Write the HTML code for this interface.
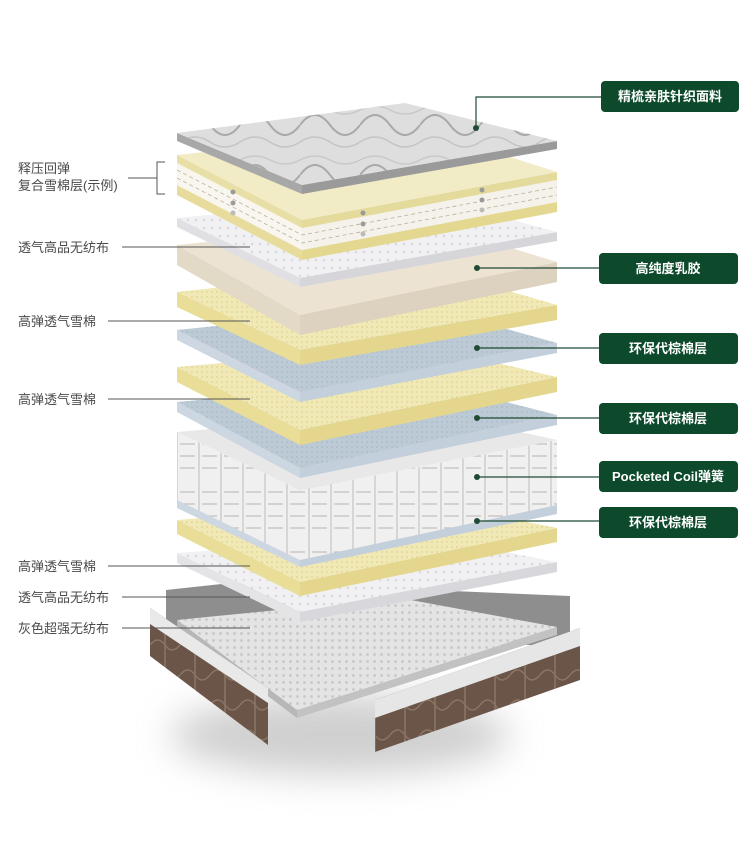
<!DOCTYPE html>
<html><head><meta charset="utf-8">
<style>
html,body{margin:0;padding:0;background:#fff;}
svg{display:block;}
text{font-family:"Liberation Sans","Noto Sans CJK SC",sans-serif;}
.lt{font-size:13px;fill:#4a4a4a;}
.bt{font-size:13px;fill:#fff;font-weight:bold;}
</style></head><body>
<svg width="750" height="850" viewBox="0 0 750 850" xmlns="http://www.w3.org/2000/svg">
<defs>
<filter id="blur" x="-50%" y="-50%" width="200%" height="200%"><feGaussianBlur stdDeviation="18"/></filter>
<pattern id="dots" width="8" height="8" patternUnits="userSpaceOnUse"><rect width="8" height="8" fill="#f1f1f3"/><circle cx="4" cy="4" r="1.4" fill="#dcdce0"/></pattern>
<pattern id="dotsg" width="7" height="7" patternUnits="userSpaceOnUse"><rect width="7" height="7" fill="#e4e4e4"/><circle cx="3.5" cy="3.5" r="1.4" fill="#c8c8c8"/></pattern>
<pattern id="fab" width="60" height="50" patternUnits="userSpaceOnUse"><rect width="60" height="50" fill="#dedede"/><path d="M0 25 Q15 5 30 25 T60 25" stroke="#a9a9a9" stroke-width="2" fill="none"/><path d="M0 42 Q15 32 30 42 T60 42" stroke="#c4c4c4" stroke-width="1.5" fill="none"/><path d="M0 10 Q15 2 30 10 T60 10" stroke="#c9c9c9" stroke-width="1.5" fill="none"/></pattern>
<pattern id="yel" width="5" height="5" patternUnits="userSpaceOnUse"><rect width="5" height="5" fill="#f0e9b6"/><circle cx="2" cy="2" r="0.9" fill="#e0d494"/></pattern>
<pattern id="blu" width="5" height="5" patternUnits="userSpaceOnUse"><rect width="5" height="5" fill="#bccad6"/><circle cx="2" cy="2" r="0.9" fill="#aab9c7"/></pattern>
<pattern id="brn" width="30" height="30" patternUnits="userSpaceOnUse"><rect width="30" height="30" fill="#6b5448"/><path d="M0 15 Q8 5 15 15 T30 15 M15 0 V30" stroke="#8b7566" stroke-width="1.5" fill="none"/></pattern>
<pattern id="coil" width="22" height="60" patternUnits="userSpaceOnUse"><rect width="22" height="60" fill="#f1f0f0"/><rect x="0" y="0" width="2" height="60" fill="#d8d5d5"/><path d="M4 12 H19 M4 24 H19 M4 36 H19 M4 48 H19" stroke="#c3bfbd" stroke-width="1.2"/></pattern>
</defs>

<!-- shadow -->
<ellipse cx="340" cy="735" rx="170" ry="40" fill="#b0b0b0" filter="url(#blur)" opacity="0.6"/>

<!-- base back walls -->
<polygon points="166,590 240,582 570,596 570,645 166,645" fill="#8e8e8e"/>
<polygon points="177,620 297,710 297,718 177,628" fill="#b7b7b7"/>
<polygon points="297,710 557,627 557,635 297,718" fill="#c2c2c2"/>
<polygon points="177,620 400,598 557,627 297,710" fill="url(#dotsg)"/>
<polygon points="150,608 268,688 268,745 150,656" fill="url(#brn)"/>
<polygon points="150,608 268,688 268,703 150,624" fill="#e9e9e9"/>
<polygon points="375,700 580,628 580,680 375,752" fill="url(#brn)"/>
<polygon points="375,700 580,628 580,646 375,718" fill="#e6e6e6"/>

<polygon points="177,553 300,612 300,622 177,563" fill="#e4e4e6"/>
<polygon points="300,612 557,562 557,572 300,622" fill="#d8d8dc"/>
<polygon points="177,553 420,535 557,562 300,612" fill="url(#dots)"/>
<polygon points="177,520 300,582 300,596 177,534" fill="#e9dd97"/>
<polygon points="300,582 557,528 557,542 300,596" fill="#e4d78d"/>
<polygon points="177,520 420,500 557,528 300,582" fill="url(#yel)"/>
<polygon points="177,496 300,555 300,567 177,508" fill="#cdd7e1"/>
<polygon points="300,555 557,502 557,514 300,567" fill="#c3cfdb"/>
<polygon points="177,496 420,475 557,502 300,555" fill="url(#blu)"/>
<polygon points="177,432 300,490 300,560 177,500" fill="url(#coil)"/>
<polygon points="300,490 557,440 557,505 300,560" fill="url(#coil)"/>
<polygon points="177,432 420,410 557,440 300,490" fill="#e9e8e8"/>
<polygon points="177,402 300,468 300,478 177,412" fill="#cdd7e1"/>
<polygon points="300,468 557,415 557,425 300,478" fill="#c3cfdb"/>
<polygon points="177,402 420,380 557,415 300,468" fill="url(#blu)"/>
<polygon points="177,367 300,430 300,445 177,382" fill="#e9dd97"/>
<polygon points="300,430 557,377 557,392 300,445" fill="#e4d78d"/>
<polygon points="177,367 420,345 557,377 300,430" fill="url(#yel)"/>
<polygon points="177,330 300,392 300,402 177,340" fill="#cdd7e1"/>
<polygon points="300,392 557,343 557,353 300,402" fill="#c3cfdb"/>
<polygon points="177,330 420,305 557,343 300,392" fill="url(#blu)"/>
<polygon points="177,292 300,350 300,365 177,307" fill="#e9dd97"/>
<polygon points="300,350 557,305 557,320 300,365" fill="#e4d78d"/>
<polygon points="177,292 420,265 557,305 300,350" fill="url(#yel)"/>
<polygon points="177,245 300,315 300,335 177,265" fill="#e3d9c7"/>
<polygon points="300,315 557,262 557,282 300,335" fill="#ddd2bf"/>
<polygon points="177,245 420,220 557,262 300,315" fill="#ece3d3"/>
<polygon points="177,218 300,278 300,287 177,227" fill="#e0e0e4"/>
<polygon points="300,278 557,232 557,241 300,287" fill="#d6d6da"/>
<polygon points="177,218 420,195 557,232 300,278" fill="url(#dots)"/>
<polygon points="177,185 302,250 302,260 177,195" fill="#e8dc9c"/>
<polygon points="302,250 557,202 557,212 302,260" fill="#e4d890"/>
<polygon points="177,163 302,228 302,250 177,185" fill="#f8f6ee"/>
<polygon points="302,228 557,180 557,202 302,250" fill="#f4f2ea"/>
<path d="M177,170 L302,235 L557,187 M177,178 L302,243 L557,195" stroke="#b8b19a" stroke-width="0.8" stroke-dasharray="4,3" fill="none"/>
<polygon points="177,155 302,220 302,228 177,163" fill="#e8dfa6"/>
<polygon points="302,220 557,172 557,180 302,228" fill="#e4da9c"/>
<polygon points="177,155 420,128 557,172 302,220" fill="#f1ebc6"/>
<g fill="#9a9a9a"><circle cx="233" cy="192" r="2.5"/><circle cx="233" cy="203" r="2.5"/><circle cx="233" cy="213" r="2.5" fill="#bbb"/><circle cx="363" cy="213" r="2.5"/><circle cx="363" cy="224" r="2.5"/><circle cx="363" cy="234" r="2.5" fill="#bbb"/><circle cx="482" cy="190" r="2.5"/><circle cx="482" cy="200" r="2.5"/><circle cx="482" cy="210" r="2.5" fill="#bbb"/></g>
<polygon points="177,133 302,185 302,194 177,141" fill="#a8a8a8"/>
<polygon points="302,185 557,141 557,149 302,194" fill="#9a9a9a"/>
<polygon points="177,133 405,103 557,141 302,185" fill="url(#fab)"/>

<text class="lt" x="18" y="173">释压回弹</text>
<text class="lt" x="18" y="190">复合雪棉层(示例)</text>
<path d="M128,178 H157 M165,162 H157 V194 H165" stroke="#555" stroke-width="1" fill="none"/>
<g stroke="#555" stroke-width="1">
<line x1="122" y1="247" x2="250" y2="247"/>
<line x1="108" y1="321" x2="250" y2="321"/>
<line x1="108" y1="399" x2="250" y2="399"/>
<line x1="108" y1="566" x2="250" y2="566"/>
<line x1="122" y1="597" x2="250" y2="597"/>
<line x1="122" y1="628" x2="250" y2="628"/>
</g>
<text class="lt" x="18" y="252">透气高品无纺布</text>
<text class="lt" x="18" y="326">高弹透气雪棉</text>
<text class="lt" x="18" y="404">高弹透气雪棉</text>
<text class="lt" x="18" y="571">高弹透气雪棉</text>
<text class="lt" x="18" y="602">透气高品无纺布</text>
<text class="lt" x="18" y="633">灰色超强无纺布</text>

<g stroke="#1f4a34" stroke-width="1.2" fill="none">
<path d="M601,97 H476 V128"/>
<line x1="477" y1="268" x2="600" y2="268"/>
<line x1="477" y1="348" x2="600" y2="348"/>
<line x1="477" y1="418" x2="600" y2="418"/>
<line x1="477" y1="477" x2="600" y2="477"/>
<line x1="477" y1="521" x2="600" y2="521"/>
</g>
<g fill="#1f4a34">
<circle cx="476" cy="128" r="3"/><circle cx="477" cy="268" r="3"/><circle cx="477" cy="348" r="3"/><circle cx="477" cy="418" r="3"/><circle cx="477" cy="477" r="3"/><circle cx="477" cy="521" r="3"/>
</g>
<g fill="#0d4a2c">
<rect x="601" y="81" width="138" height="31" rx="4"/>
<rect x="599" y="253" width="139" height="31" rx="4"/>
<rect x="599" y="333" width="139" height="31" rx="4"/>
<rect x="599" y="403" width="139" height="31" rx="4"/>
<rect x="599" y="461" width="139" height="31" rx="4"/>
<rect x="599" y="507" width="139" height="31" rx="4"/>
</g>
<g text-anchor="middle">
<text class="bt" x="670" y="101">精梳亲肤针织面料</text>
<text class="bt" x="668" y="273">高纯度乳胶</text>
<text class="bt" x="668" y="353">环保代棕棉层</text>
<text class="bt" x="668" y="423">环保代棕棉层</text>
<text class="bt" x="668" y="481">Pocketed Coil弹簧</text>
<text class="bt" x="668" y="527">环保代棕棉层</text>
</g>
</svg>
</body></html>
